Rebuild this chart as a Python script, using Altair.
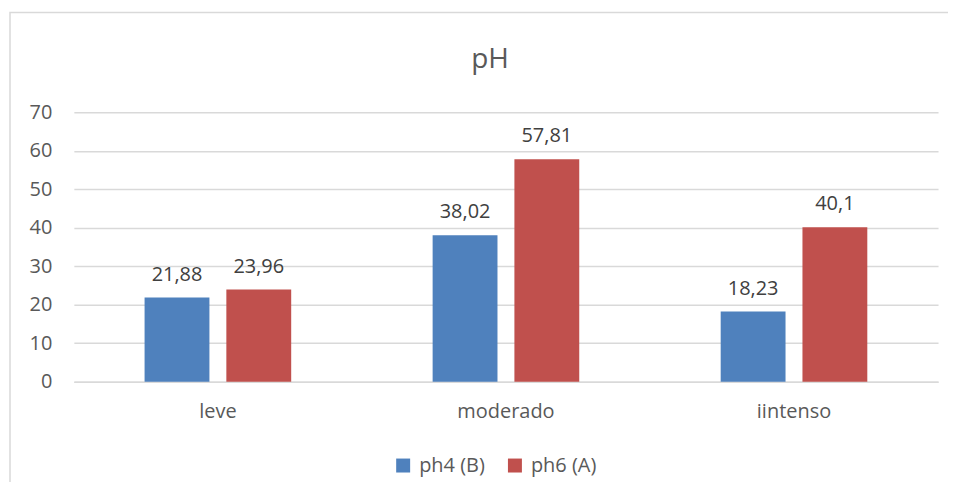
import altair as alt
import pandas as pd

categories = ["leve", "moderado", "iintenso"]
series = ["ph4 (B)", "ph6 (A)"]
ph4_values = [21.88, 38.02, 18.23]
ph6_values = [23.96, 57.81, 40.1]
y_ticks = [0, 10, 20, 30, 40, 50, 60, 70]
colors = ["#4F81BD", "#C0504D"]

rows = []
for c, a, b in zip(categories, ph4_values, ph6_values):
    rows.append({"cat": c, "serie": series[0], "value": a})
    rows.append({"cat": c, "serie": series[1], "value": b})
df = pd.DataFrame(rows)

FONT = "Open Sans"
TXT = "#595959"
FS = 20

x_enc = alt.X("cat:N", sort=categories, title=None,
              scale=alt.Scale(paddingInner=0.491, paddingOuter=0.2455),
              axis=alt.Axis(labelAngle=0, labelFontSize=FS, labelColor=TXT, labelFont=FONT,
                            labelPadding=20, ticks=False, domainColor="#d9d9d9", domainWidth=1.5,
                            grid=False))
xo_enc = alt.XOffset("serie:N", sort=series,
                     scale=alt.Scale(paddingInner=0.207, paddingOuter=0))
y_enc = alt.Y("value:Q", title=None,
              scale=alt.Scale(domain=[0, 70], nice=False, zero=True),
              axis=alt.Axis(values=y_ticks, tickCount=8, labelFontSize=FS, labelColor=TXT,
                            labelFont=FONT, labelPadding=22, ticks=False, domain=False,
                            labelOverlap=False, labelBound=False,
                            gridColor="#d9d9d9", gridWidth=1.5))

base = alt.Chart(df)

bars = base.mark_bar().encode(
    x=x_enc,
    xOffset=xo_enc,
    y=y_enc,
    color=alt.Color("serie:N", sort=series, title=None,
                    scale=alt.Scale(domain=series, range=colors),
                    legend=alt.Legend(orient="none", legendX=320, legendY=344, direction="horizontal",
                                      symbolType="square", symbolSize=196, symbolStrokeWidth=0,
                                      labelFontSize=FS, labelColor=TXT, labelFont=FONT,
                                      columnPadding=20, labelOffset=6)),
)

labels = base.transform_calculate(
    lbl="replace(toString(datum.value), '.', ',')"
).mark_text(baseline="alphabetic", dy=-17, fontSize=FS, font=FONT, color="#404040").encode(
    x=x_enc,
    xOffset=xo_enc,
    y=y_enc,
    text="lbl:N",
)

border = alt.Chart(pd.DataFrame({"a": [0]})).mark_rect(
    fill=None, stroke="#d9d9d9", strokeWidth=1.5, clip=False
).encode(
    x=alt.value(-64), x2=alt.value(900), y=alt.value(-100), y2=alt.value(420)
)

title = alt.Chart(pd.DataFrame({"t": ["pH"]})).mark_text(
    fontSize=28, font=FONT, color=TXT, baseline="middle", align="center"
).encode(
    x=alt.value(417), y=alt.value(-52), text="t:N"
)

chart = alt.layer(border, bars, labels, title).properties(
    width=866, height=270,
    autosize=alt.AutoSizeParams(type="none"),
    padding={"left": 66, "top": 104, "right": 10, "bottom": 100},
).configure_view(stroke=None)

chart.save("out.html", embed_options={"renderer": "svg", "actions": False})
